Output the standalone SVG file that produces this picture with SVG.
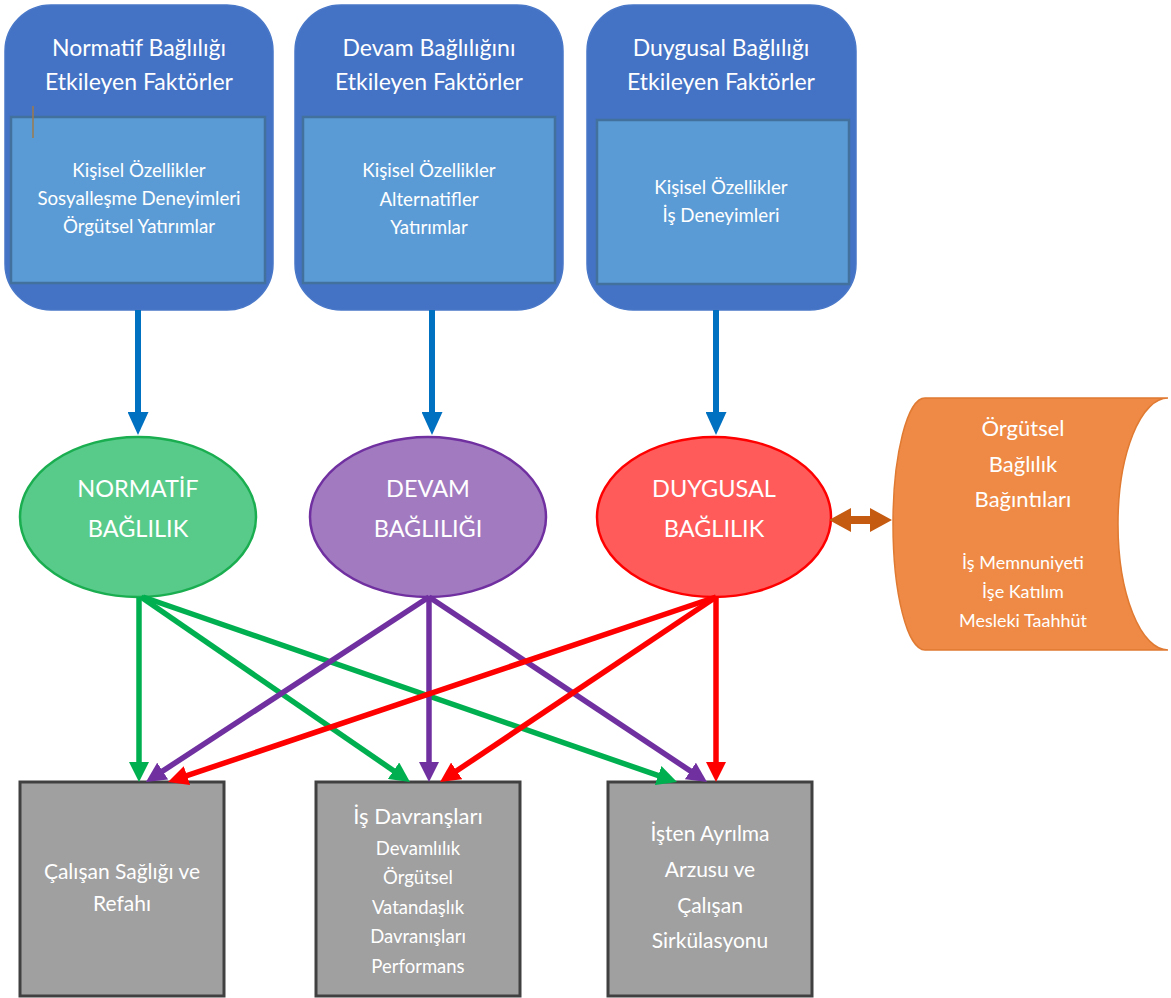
<svg xmlns="http://www.w3.org/2000/svg" width="1171" height="998" viewBox="0 0 1171 998">
  <style>
    text { font-family: Lato, "Open Sans", "Liberation Sans", sans-serif; fill: #ffffff; text-anchor: middle; }
    .outer { fill: #4472C4; stroke: #4A78C8; stroke-width: 1.5; }
    .inner { fill: #5B9BD5; stroke: #41719C; stroke-width: 2.5; }
    .title { font-size: 23px; }
    .item { font-size: 18.7px; }
    .ell { font-size: 23.5px; }
    .box { fill: #A0A0A0; stroke: #404040; stroke-width: 3; }
    .blue { stroke: #0070C0; stroke-width: 6; fill: none; marker-end: url(#hBlue); }
    .g { stroke: #00B050; stroke-width: 5.5; fill: none; marker-end: url(#hGreen); }
    .p { stroke: #7030A0; stroke-width: 5.5; fill: none; marker-end: url(#hPurple); }
    .r { stroke: #FF0000; stroke-width: 5.5; fill: none; marker-end: url(#hRed); }
  </style>
  <defs>
    <marker id="hBlue" markerUnits="userSpaceOnUse" markerWidth="23" markerHeight="21" refX="11" refY="10.5" orient="auto">
      <path d="M0,0 L23,10.5 L0,21 z" fill="#0070C0"/>
    </marker>
    <marker id="hGreen" markerUnits="userSpaceOnUse" markerWidth="20" markerHeight="20" refX="8" refY="10" orient="auto">
      <path d="M0,0 L20,10 L0,20 z" fill="#00B050"/>
    </marker>
    <marker id="hPurple" markerUnits="userSpaceOnUse" markerWidth="20" markerHeight="20" refX="8" refY="10" orient="auto">
      <path d="M0,0 L20,10 L0,20 z" fill="#7030A0"/>
    </marker>
    <marker id="hRed" markerUnits="userSpaceOnUse" markerWidth="20" markerHeight="20" refX="8" refY="10" orient="auto">
      <path d="M0,0 L20,10 L0,20 z" fill="#FF0000"/>
    </marker>
  </defs>

  <rect width="1171" height="998" fill="#ffffff"/>

  <!-- factor boxes -->
  <g id="normatif-factors">
    <rect class="outer" x="5" y="5" width="268" height="305" rx="46"/>
    <text class="title" x="139" y="56">Normatif Bağlılığı</text>
    <text class="title" x="139" y="90">Etkileyen Faktörler</text>
    <rect class="inner" x="11" y="117" width="254" height="166"/>
    <text class="item" x="139" y="177">Kişisel Özellikler</text>
    <text class="item" x="139" y="205">Sosyalleşme Deneyimleri</text>
    <text class="item" x="139" y="233">Örgütsel Yatırımlar</text>
    <line x1="33" y1="106" x2="33" y2="138" stroke="#9C7A4E" stroke-width="1.5"/>
  </g>

  <g id="devam-factors">
    <rect class="outer" x="295" y="5" width="268" height="305" rx="46"/>
    <text class="title" x="429" y="56">Devam Bağlılığını</text>
    <text class="title" x="429" y="90">Etkileyen Faktörler</text>
    <rect class="inner" x="303" y="117" width="252" height="166"/>
    <text class="item" x="429" y="177">Kişisel Özellikler</text>
    <text class="item" x="429" y="206">Alternatifler</text>
    <text class="item" x="429" y="234">Yatırımlar</text>
  </g>

  <g id="duygusal-factors">
    <rect class="outer" x="587" y="5" width="269" height="305" rx="46"/>
    <text class="title" x="721" y="56">Duygusal Bağlılığı</text>
    <text class="title" x="721" y="90">Etkileyen Faktörler</text>
    <rect class="inner" x="597" y="120" width="252" height="164"/>
    <text class="item" x="721" y="194">Kişisel Özellikler</text>
    <text class="item" x="721" y="222">İş Deneyimleri</text>
  </g>

  <!-- commitment ellipses -->
  <g id="normatif">
    <ellipse cx="138" cy="517" rx="118" ry="80" fill="#58CB8B" stroke="#1AAE50" stroke-width="2.5"/>
    <text class="ell" x="138" y="497">NORMATİF</text>
    <text class="ell" x="138" y="537">BAĞLILIK</text>
  </g>
  <g id="devam">
    <ellipse cx="428" cy="517" rx="118" ry="80" fill="#A17AC0" stroke="#7030A0" stroke-width="2.5"/>
    <text class="ell" x="428" y="497">DEVAM</text>
    <text class="ell" x="428" y="537">BAĞLILIĞI</text>
  </g>
  <g id="duygusal">
    <ellipse cx="714" cy="517" rx="117" ry="80" fill="#FF5B5B" stroke="#FF0000" stroke-width="2.5"/>
    <text class="ell" x="714" y="497">DUYGUSAL</text>
    <text class="ell" x="714" y="537">BAĞLILIK</text>
  </g>

  <!-- correlates -->
  <g id="bagintilar">
    <path d="M925,398 A32,126 0 0 0 925,650 L1168,650 A50,126 0 0 1 1168,398 Z" fill="#EE8A45" stroke="#E07A32" stroke-width="1.5"/>
    <text x="1023" y="436" font-size="22">Örgütsel</text>
    <text x="1023" y="472" font-size="22">Bağlılık</text>
    <text x="1023" y="507" font-size="22">Bağıntıları</text>
    <text x="1023" y="569" font-size="18">İş Memnuniyeti</text>
    <text x="1023" y="598" font-size="18">İşe Katılım</text>
    <text x="1023" y="627" font-size="18">Mesleki Taahhüt</text>
  </g>

  <!-- outcome boxes -->
  <g id="saglik">
    <rect class="box" x="20" y="782" width="204" height="214"/>
    <text x="122" y="879" font-size="21">Çalışan Sağlığı ve</text>
    <text x="122" y="911" font-size="21">Refahı</text>
  </g>
  <g id="davranislar">
    <rect class="box" x="316" y="782" width="204" height="214"/>
    <text x="418" y="824" font-size="22">İş Davranşları</text>
    <text x="418" y="855" font-size="18.5">Devamlılık</text>
    <text x="418" y="884" font-size="18.5">Örgütsel</text>
    <text x="418" y="914" font-size="18.5">Vatandaşlık</text>
    <text x="418" y="943" font-size="18.5">Davranışları</text>
    <text x="418" y="973" font-size="18.5">Performans</text>
  </g>
  <g id="ayrilma">
    <rect class="box" x="608" y="782" width="204" height="214"/>
    <text x="710" y="841" font-size="21">İşten Ayrılma</text>
    <text x="710" y="877" font-size="21">Arzusu ve</text>
    <text x="710" y="913" font-size="21">Çalışan</text>
    <text x="710" y="948" font-size="21">Sirkülasyonu</text>
  </g>

  <!-- connectors -->
  <g id="connectors">
    <path class="blue" d="M138,310 L138,423"/>
    <path class="blue" d="M432,310 L432,423"/>
    <path class="blue" d="M716,310 L716,423"/>

    <path class="g" d="M139,597 L139,770"/>
    <path class="g" d="M141,597 L400.1,775.2"/>
    <path class="g" d="M143,597 L665.7,778.1"/>

    <path class="p" d="M429,597 L156,775.4"/>
    <path class="p" d="M429,597 L429,770"/>
    <path class="p" d="M429,597 L697,775.4"/>

    <path class="r" d="M716,597 L179.4,778.2"/>
    <path class="r" d="M716,597 L450,775.3"/>
    <path class="r" d="M716,597 L716,770"/>

    <path d="M829,520 L851,508 L851,516 L870,516 L870,508 L892,520 L870,532 L870,524 L851,524 L851,532 Z" fill="#C55A11"/>
  </g>
</svg>
